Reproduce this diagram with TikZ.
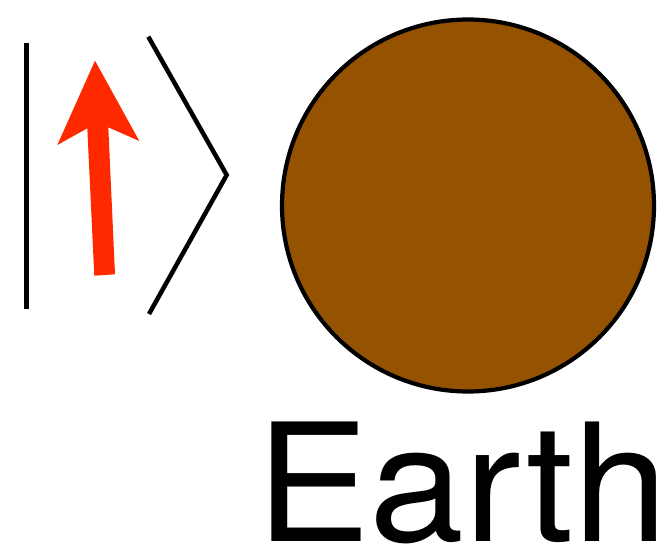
\documentclass[tikz,border=0pt]{standalone}
\usepackage{fontspec}
\setmainfont{TeX Gyre Heros}
\definecolor{earthbrown}{RGB}{149,82,0}
\definecolor{spinred}{RGB}{255,41,0}
\begin{document}
\begin{tikzpicture}[x=1pt,y=-1pt,
  ketline/.style={draw=black,line width=4.5pt},
  planet/.style={circle,draw=black,line width=4.2pt,fill=earthbrown,minimum size=372pt,inner sep=0pt},
  label/.style={font=\fontsize{164}{164}\selectfont,inner sep=0pt,anchor=base west,xscale=1.04}]
\useasboundingbox (0,0) rectangle (666,549);
% ket bar
\coordinate (bt) at (26.7,43.3);
\coordinate (bb) at (26.7,309);
\draw[ketline] (bt) -- (bb);
% angle bracket
\coordinate (at) at (148.3,36.7);
\coordinate (am) at (226.7,175);
\coordinate (ab) at (149,314);
\draw[ketline,line join=miter] (at) -- (am) -- (ab);
% red arrow
\fill[spinred] (94.3,275.7) -- (115,274.3) -- (108.3,127.3) -- (139.3,141) -- (95,60.7) -- (57.3,145) -- (87.3,128.3) -- cycle;
% earth
\node[planet] (earth) at (468,205.5) {};
\node[label] (name) at (256,541.5) {Earth};
\end{tikzpicture}
\end{document}
